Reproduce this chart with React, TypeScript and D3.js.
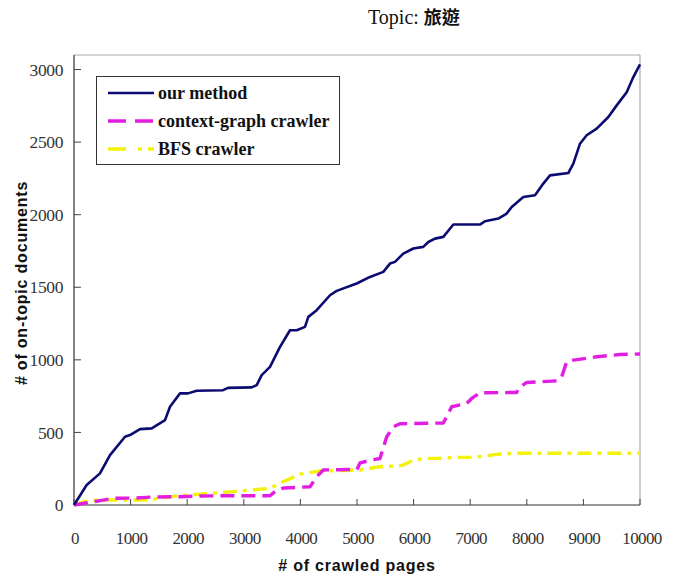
import React from "react";
import * as d3 from "d3";

const W = 678;
const H = 579;

const xTicks = [0, 1000, 2000, 3000, 4000, 5000, 6000, 7000, 8000, 9000, 10000];
const yTicks = [0, 500, 1000, 1500, 2000, 2500, 3000];

const ourX = [0, 224, 459, 636, 901, 989, 1166, 1373, 1608, 1696, 1873, 2014, 2168, 2633, 2721, 3140, 3228, 3316, 3463, 3640, 3816, 3935, 4081, 4140, 4288, 4523, 4641, 4995, 5230, 5465, 5583, 5671, 5818, 5995, 6171, 6260, 6378, 6525, 6702, 7173, 7261, 7497, 7645, 7733, 7939, 8145, 8292, 8410, 8733, 8822, 8940, 9058, 9235, 9441, 9588, 9765, 9882, 10000];
const ourY = [0, 138, 218, 344, 470, 482, 523, 528, 585, 677, 769, 769, 787, 791, 807, 810, 826, 895, 952, 1089, 1204, 1204, 1227, 1296, 1342, 1445, 1475, 1526, 1571, 1606, 1663, 1675, 1732, 1767, 1778, 1812, 1835, 1847, 1932, 1932, 1955, 1973, 2008, 2053, 2122, 2134, 2214, 2271, 2287, 2352, 2489, 2547, 2593, 2673, 2753, 2844, 2948, 3035];

const ctxX = [0, 518, 694, 1107, 1373, 1873, 2226, 2756, 3463, 3551, 3700, 4170, 4288, 4405, 5000, 5053, 5260, 5406, 5525, 5643, 5760, 6525, 6585, 6673, 6938, 7026, 7173, 7821, 7851, 7999, 8528, 8616, 8704, 8822, 9235, 9647, 10000];
const ctxY = [0, 34, 46, 48, 55, 57, 62, 64, 64, 92, 117, 126, 195, 241, 245, 290, 310, 320, 470, 539, 560, 565, 608, 677, 700, 734, 773, 775, 803, 844, 855, 883, 986, 998, 1021, 1037, 1040];

const bfsX = [0, 200, 400, 1290, 1696, 2279, 2809, 3463, 3693, 4000, 4346, 5053, 5406, 5642, 5818, 5995, 6230, 6525, 6700, 7050, 7291, 7468, 7760, 10000];
const bfsY = [0, 25, 34, 34, 57, 76, 92, 115, 160, 213, 234, 241, 264, 268, 275, 310, 321, 321, 328, 328, 339, 349, 356, 356];

const seriesNames = ["our method", "context-graph crawler", "BFS crawler"];

const left = 74, right = 640, top = 55, bottom = 505;

export default function App() {
  const x = d3.scaleLinear().domain([0, 10000]).range([left, right]);
  const y = d3.scaleLinear().domain([0, 3100]).range([bottom, top]);
  const line = d3.line<[number, number]>().x(d => x(d[0])).y(d => y(d[1])).curve(d3.curveLinear);
  const zip = (a: number[], b: number[]) => a.map((v, i) => [v, b[i]] as [number, number]);

  const series = [
    { name: seriesNames[0], d: zip(ourX, ourY), color: "#0b0b72", w: 2.6, dash: "none" },
    { name: seriesNames[1], d: zip(ctxX, ctxY), color: "#e21ee2", w: 3.4, dash: "14,7" },
    { name: seriesNames[2], d: zip(bfsX, bfsY), color: "#f2f20a", w: 3.4, dash: "14,6,4,6" },
  ];

  const serif = "'Liberation Serif', 'Times New Roman', serif";
  const sans = "'Liberation Sans', Arial, sans-serif";

  return (
    <svg width={W} height={H} style={{ position: "absolute", left: 0, top: 0, background: "#fff" }}>
      <rect x={0} y={0} width={W} height={H} fill="#fff" />
      {/* title */}
      <text x={368} y={24} fontFamily={serif} fontSize={20} fill="#111">
        Topic:{" "}
        <tspan fontFamily="'Noto Sans CJK TC', sans-serif" fontWeight={700} fontSize={18}>旅遊</tspan>
      </text>

      {/* frame */}
      <line x1={left} y1={top} x2={right} y2={top} stroke="#aaa" strokeWidth={1} />
      <line x1={right} y1={top} x2={right} y2={bottom} stroke="#999" strokeWidth={1} />
      <line x1={left} y1={top} x2={left} y2={bottom} stroke="#333" strokeWidth={1.2} />
      <line x1={left} y1={bottom} x2={right} y2={bottom} stroke="#333" strokeWidth={1.2} />

      {/* y ticks */}
      {yTicks.map(t => (
        <g key={"y" + t}>
          <line x1={left} x2={left + 7} y1={y(t)} y2={y(t)} stroke="#444" strokeWidth={1} />
          <text x={63} y={y(t)} dy="0.35em" textAnchor="end" fontFamily={serif} fontSize={17.5} letterSpacing={-0.4} fill="#333">{t}</text>
        </g>
      ))}
      {/* x ticks */}
      {xTicks.map(t => (
        <g key={"x" + t}>
          <line x1={x(t)} x2={x(t)} y1={bottom} y2={bottom - 6} stroke="#444" strokeWidth={1} />
          <text x={x(t) + (t === 10000 ? 2 : 1)} y={544} textAnchor="middle" fontFamily={serif} fontSize={17} letterSpacing={-0.6} fill="#333">{t}</text>
        </g>
      ))}

      {/* axis titles */}
      <text x={357} y={571} textAnchor="middle" fontFamily={sans} fontWeight={700} fontSize={16} letterSpacing={0.8} fill="#111">
        # of crawled pages
      </text>
      <text transform={`translate(27,283) rotate(-90)`} textAnchor="middle" fontFamily={sans} fontWeight={700} fontSize={16} letterSpacing={0.8} fill="#111">
        # of on-topic documents
      </text>

      {/* series */}
      {series.slice().reverse().map(s => (
        <path key={s.name} d={line(s.d) || ""} fill="none" stroke={s.color} strokeWidth={s.w}
          strokeDasharray={s.dash} strokeLinejoin="round" />
      ))}

      {/* legend */}
      <rect x={96.5} y={76.5} width={243} height={88} fill="#fff" stroke="#333" strokeWidth={1} />
      {series.map((s, i) => (
        <g key={"lg" + i}>
          <line x1={108} x2={154} y1={93 + i * 28} y2={93 + i * 28} stroke={s.color} strokeWidth={s.w}
            strokeDasharray={i === 1 ? "18,9" : i === 2 ? "18,12,4,6" : "none"} />
          <text x={158} y={99 + i * 28} fontFamily={serif} fontWeight={700} fontSize={18} fill="#111">{s.name}</text>
        </g>
      ))}
    </svg>
  );
}
